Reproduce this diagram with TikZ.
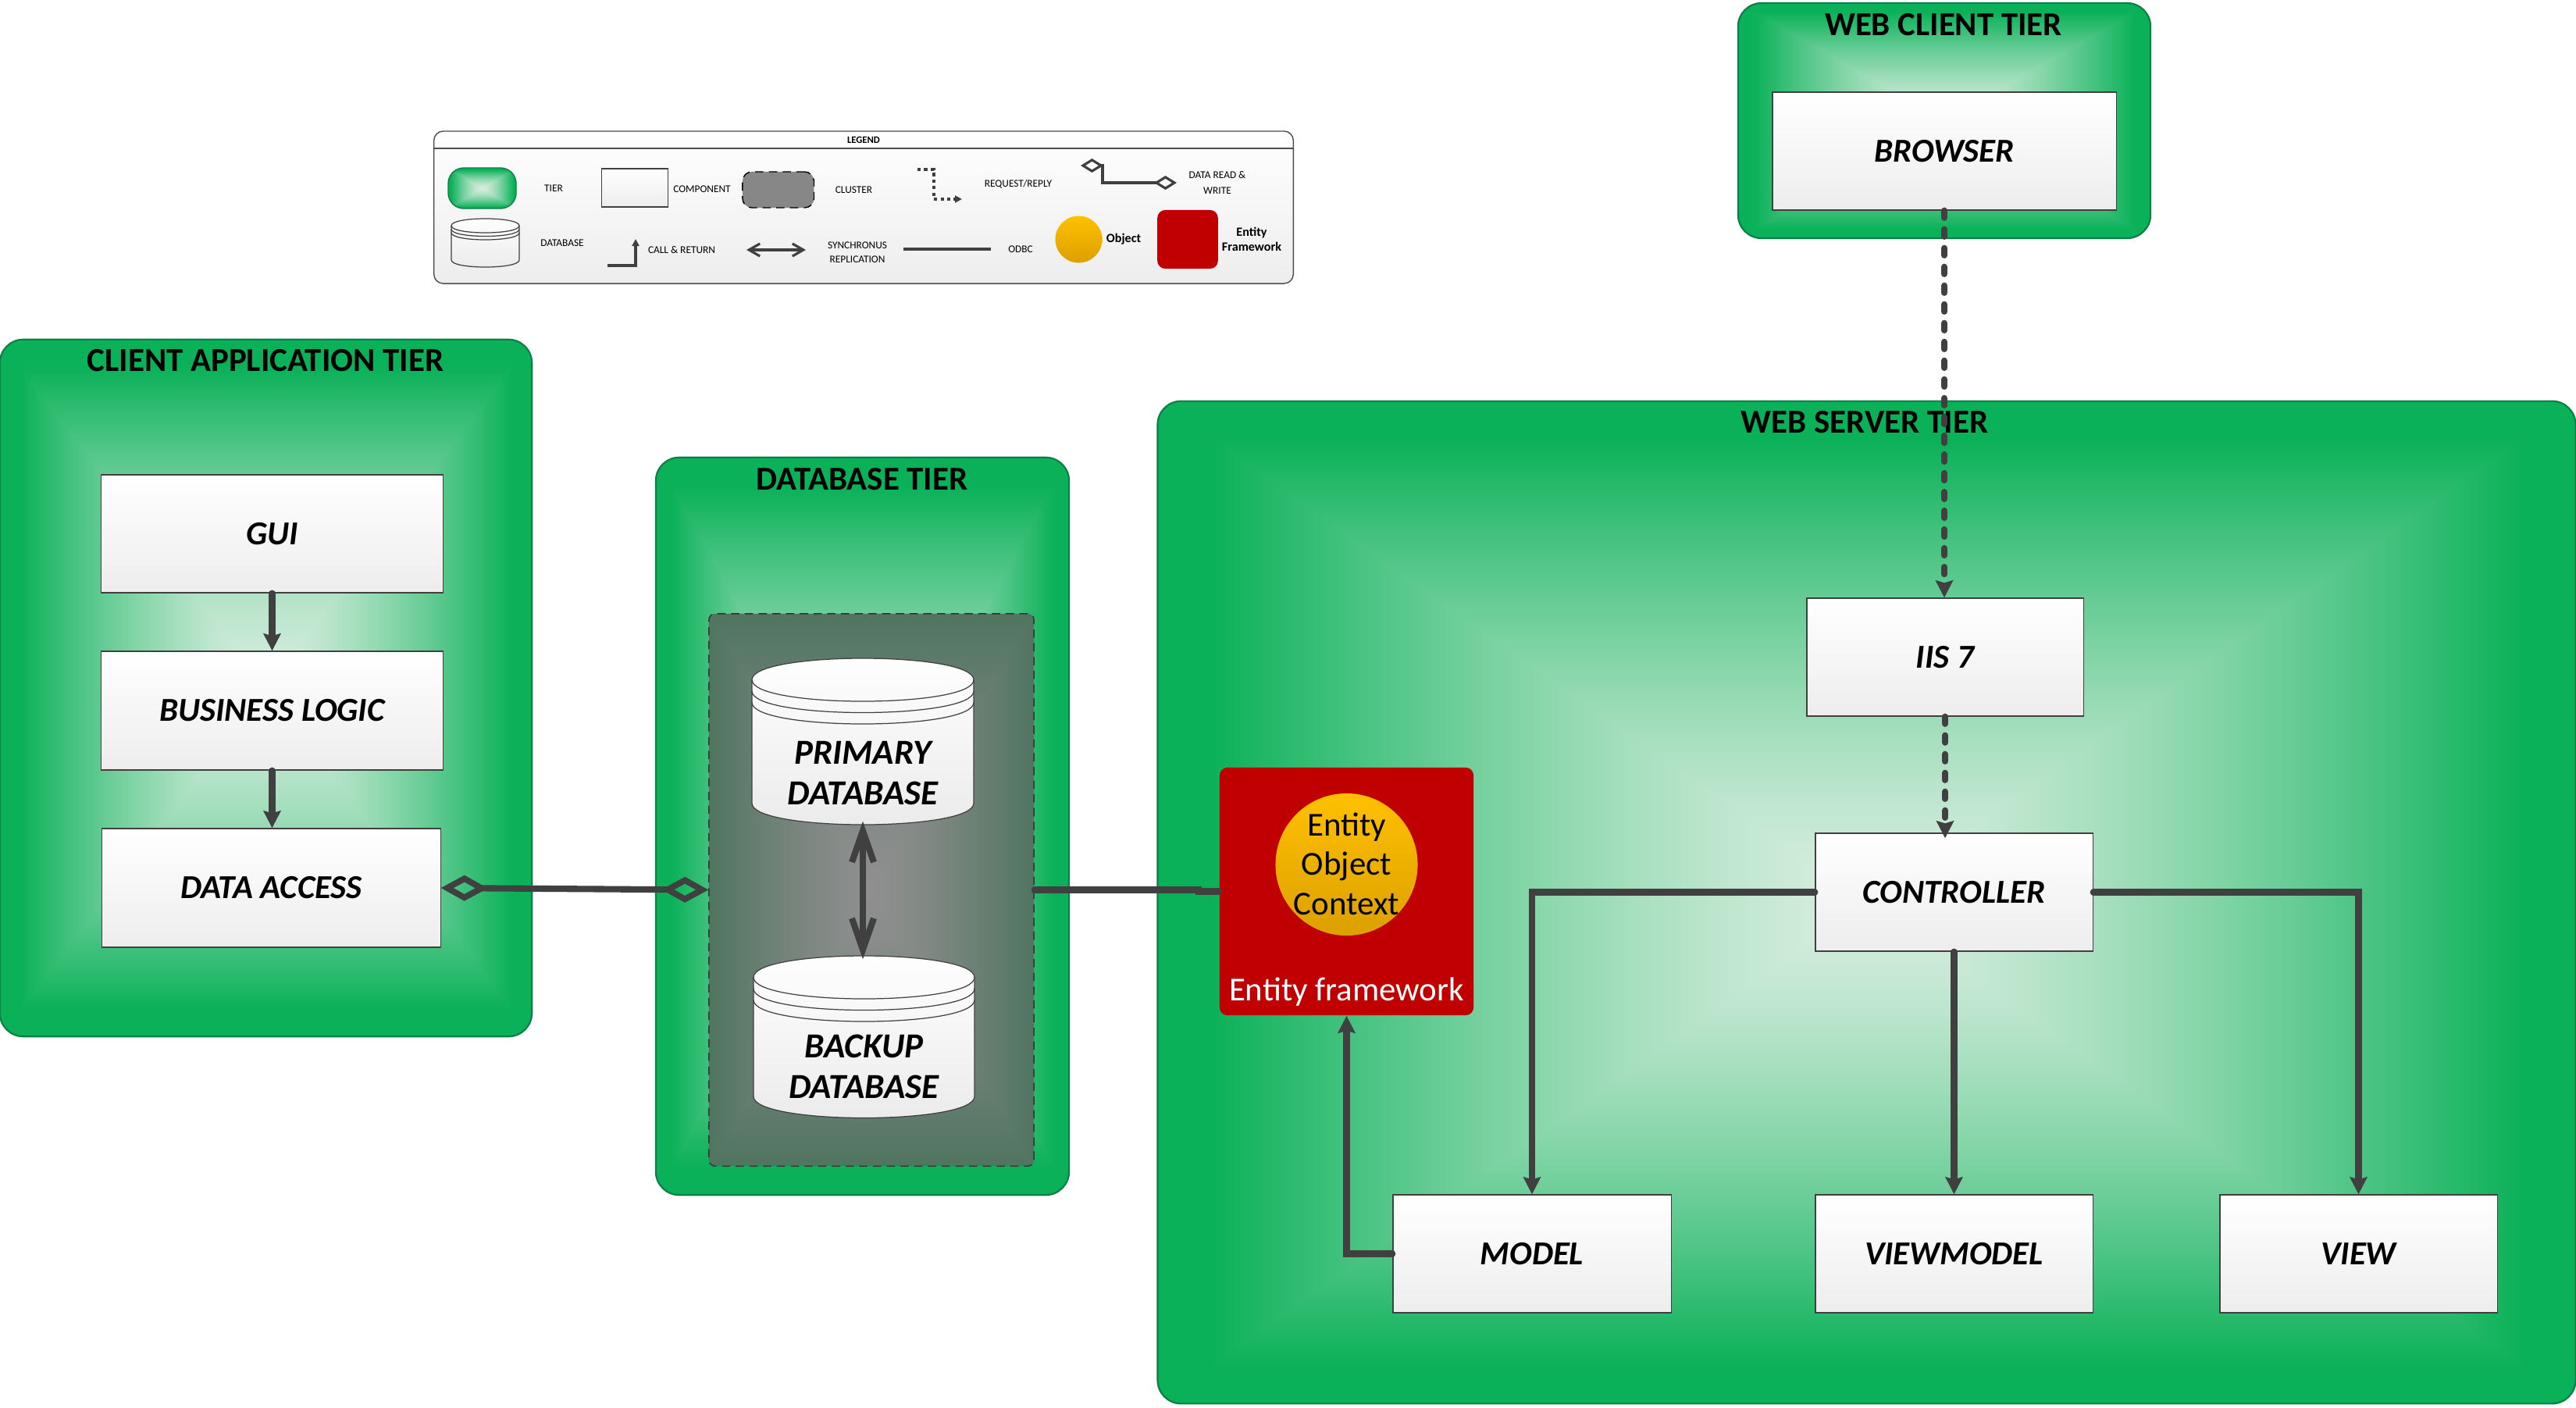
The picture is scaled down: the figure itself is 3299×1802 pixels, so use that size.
\documentclass[tikz,border=0pt]{standalone}
\usepackage{fontspec}
\setmainfont{Carlito}
\usetikzlibrary{arrows.meta,calc}
\definecolor{tierline}{HTML}{0A7F45}
\definecolor{conn}{HTML}{404040}
\definecolor{efred}{HTML}{C00000}
\definecolor{objtop}{HTML}{FFC000}
\definecolor{objbot}{HTML}{DCA000}
\pgfdeclarefunctionalshading{tierfill}{\pgfpoint{0bp}{0bp}}{\pgfpoint{100bp}{100bp}}{}{
 50 sub abs exch 50 sub abs 2 copy lt {exch} if pop
 25 div 0.92 div dup 1 gt {pop 1} if 1.4 exp
 dup -0.795 mul 0.84 add exch dup -0.235 mul 0.93 add exch -0.52 mul 0.87 add
}
\pgfdeclarefunctionalshading{clusterfill}{\pgfpoint{0bp}{0bp}}{\pgfpoint{100bp}{100bp}}{}{
 50 sub abs exch 50 sub abs 2 copy lt {exch} if pop
 25 div 0.98 div dup 1 gt {pop 1} if 1.3 exp
 dup -0.24 mul 0.56 add exch dup -0.10 mul 0.56 add exch -0.18 mul 0.56 add
}
\tikzset{
  x=0.01cm,y=-0.01cm,
  tier/.style={draw=tierline,line width=0.6pt,shading=tierfill,rounded corners=0.3cm,inner sep=0pt},
  tierlabel/.style={font=\fontsize{12.2}{14}\selectfont\bfseries,inner sep=0pt,text=black},
  comp/.style={draw=black!75,line width=0.35pt,top color=white,bottom color=black!7,inner sep=0pt,font=\fontsize{12.2}{14}\selectfont\bfseries\itshape,text=black},
  clusterbox/.style={draw=black!80,densely dashed,line width=0.4pt,shading=clusterfill,rounded corners=0.08cm,inner sep=0pt},
  dbtext/.style={font=\fontsize{12.8}{14.8}\selectfont\bfseries\itshape,align=center,inner sep=0pt,text=black},
  efbox/.style={fill=efred,rounded corners=0.1cm,inner sep=0pt},
  objcirc/.style={circle,draw=none,top color=objtop,bottom color=objbot,inner sep=0pt},
  flow/.style={draw=conn,line width=2.3pt,line cap=round,-{Stealth[length=0.22cm,width=0.22cm,inset=0.03cm]}},
  reqflow/.style={flow,dash pattern=on 2.6pt off 4.23pt},
  plain/.style={draw=conn,line width=2.3pt,line cap=round},
  sync/.style={draw=conn,line width=2.3pt,line cap=round,{Straight Barb[length=0.4cm,width=0.28cm]}-{Straight Barb[length=0.4cm,width=0.28cm]},shorten <=-0.05cm,shorten >=-0.05cm},
  rw/.style={draw=conn,line width=2.3pt,{Diamond[open,length=0.6cm,width=0.33cm,line width=2.2pt]}-{Diamond[open,length=0.6cm,width=0.33cm,line width=2.2pt]}},
  legtext/.style={font=\fontsize{3.8}{4.6}\selectfont,align=center,inner sep=0pt,text=black},
  legbold/.style={font=\fontsize{4.6}{5.4}\selectfont\bfseries,align=center,inner sep=0pt,text=black},
  legflow/.style={draw=conn,line width=0.9pt,-{Triangle[length=0.09cm,width=0.09cm]}},
  legline/.style={draw=conn,line width=0.9pt},
  cyl/.style={draw=black!75,line width=0.35pt},
  blank/.style={inner sep=0pt,draw=none,fill=none},
}
% x0 x1 top bottom ry gap
\newcommand{\dbcyl}[6]{%
  \path[cyl,top color=white,bottom color=black!8]
    (#1,{#3+#5}) .. controls (#1,{#3-#5/3}) and (#2,{#3-#5/3}) .. (#2,{#3+#5})
    -- (#2,{#4-#5}) .. controls (#2,{#4+#5/3}) and (#1,{#4+#5/3}) .. (#1,{#4-#5}) -- cycle;
  \draw[cyl] (#1,{#3+#5}) .. controls (#1,{#3+#5*7/3}) and (#2,{#3+#5*7/3}) .. (#2,{#3+#5});
  \draw[cyl] (#1,{#3+#5+#6}) .. controls (#1,{#3+#5*7/3+#6}) and (#2,{#3+#5*7/3+#6}) .. (#2,{#3+#5+#6});
  \draw[cyl] (#1,{#3+#5+2*#6}) .. controls (#1,{#3+#5*7/3+2*#6}) and (#2,{#3+#5*7/3+2*#6}) .. (#2,{#3+#5+2*#6});
}
\begin{document}
\begin{tikzpicture}
\useasboundingbox (0,0) rectangle (3299,1802);
\fill[white] (0,0) rectangle (3299,1802);

% Legend
\node[draw=black!70,line width=0.4pt,rounded corners=0.12cm,top color=white,bottom color=black!7,minimum width=11cm,minimum height=1.95cm,inner sep=0pt] (legend) at (1106,265.5) {};
\coordinate (lbarL) at (556,190);
\coordinate (lbarR) at (1656,190);
\draw[black!70,line width=0.4pt] (lbarL) -- (lbarR);
\node[legtext,font=\fontsize{3.6}{4.4}\selectfont\bfseries] (legtitle) at (1106,179) {LEGEND};
\node[draw=tierline,line width=0.4pt,shading=tierfill,rounded corners=0.2cm,minimum width=0.87cm,minimum height=0.52cm,inner sep=0pt] (ltier) at (617.5,241) {};
\node[legtext] (ltiert) at (709,241) {TIER};
\node[comp,minimum width=0.845cm,minimum height=0.49cm] (lcomp) at (813,240.5) {};
\node[legtext] (lcompt) at (899,242) {COMPONENT};
\node[draw=black,densely dashed,line width=0.4pt,fill=black!47,rounded corners=0.12cm,minimum width=0.915cm,minimum height=0.46cm,inner sep=0pt] (lcluster) at (996.7,243) {};
\node[legtext] (lclustert) at (1093.5,243) {CLUSTER};
\coordinate (lreqA) at (1175,217);
\coordinate (lreqB) at (1232,255);
\draw[legflow,dash pattern=on 1.2pt off 1.2pt] (lreqA) -- (1196,217) |- (lreqB);
\node[legtext] (lreqt) at (1304,236) {REQUEST/REPLY};
\coordinate (lrwA) at (1384,212);
\coordinate (lrwB) at (1507,234);
\draw[draw=conn,line width=0.9pt,{Diamond[open,length=0.29cm,width=0.18cm,line width=0.9pt]}-{Diamond[open,length=0.29cm,width=0.18cm,line width=0.9pt]}] (lrwA) -- (1412,212) |- (lrwB);
\node[legtext] (lrwt) at (1559,234) {DATA READ \&\\[1.0pt]WRITE};
\dbcyl{578}{665}{280}{342}{9}{4.5}
\node[blank,minimum width=0.87cm,minimum height=0.62cm] (ldb) at (621.5,311) {};
\node[legtext] (ldbt) at (720,311) {DATABASE};
\coordinate (lcallA) at (778,340);
\coordinate (lcallB) at (814,306);
\draw[legflow] (lcallA) -| (lcallB);
\node[legtext] (lcallt) at (873,320) {CALL \& RETURN};
\coordinate (lsyncA) at (956,320);
\coordinate (lsyncB) at (1032,320);
\draw[draw=conn,line width=0.9pt,{Straight Barb[length=0.14cm,width=0.16cm]}-{Straight Barb[length=0.14cm,width=0.16cm]}] (lsyncA) -- (lsyncB);
\node[legtext] (lsynct) at (1098,323) {SYNCHRONUS\\[0.4pt]REPLICATION};
\coordinate (lodbcA) at (1157,319);
\coordinate (lodbcB) at (1269,319);
\draw[legline] (lodbcA) -- (lodbcB);
\node[legtext] (lodbct) at (1307,319) {ODBC};
\node[objcirc,minimum size=0.6cm] (lobj) at (1381.5,306.5) {};
\node[legbold] (lobjt) at (1439,306) {Object};
\node[efbox,minimum width=0.775cm,minimum height=0.75cm] (lef) at (1521,306.5) {};
\node[legbold] (lToEF) at (1603,306.5) {Entity\\Framework};

% Tiers
\node[tier,minimum width=6.81cm,minimum height=8.92cm] (client) at (340.5,881) {};
\node[tierlabel] (clientt) at (340,462) {CLIENT APPLICATION TIER};
\node[tier,minimum width=5.29cm,minimum height=9.44cm] (dbtier) at (1104.5,1058) {};
\node[tierlabel] (dbtiert) at (1104,614) {DATABASE TIER};
\node[tier,minimum width=5.28cm,minimum height=3.01cm] (webclient) at (2490,154.5) {};
\node[tierlabel] (webclientt) at (2489,32) {WEB CLIENT TIER};
\node[tier,minimum width=18.15cm,minimum height=12.83cm] (webserver) at (2390.5,1155.5) {};
\node[tierlabel] (webservert) at (2388,541) {WEB SERVER TIER};

% Client tier
\node[comp,minimum width=4.38cm,minimum height=1.51cm] (gui) at (348.5,683.5) {GUI};
\node[comp,minimum width=4.38cm,minimum height=1.52cm] (bl) at (348.5,910) {BUSINESS LOGIC};
\node[comp,minimum width=4.33cm,minimum height=1.52cm] (da) at (347.5,1137) {DATA ACCESS};

% Database tier
\node[clusterbox,minimum width=4.16cm,minimum height=7.07cm] (cluster) at (1116,1139.5) {};
\dbcyl{963}{1247}{843}{1056}{27.5}{14.5}
\node[blank,minimum width=2.84cm,minimum height=2.13cm] (primary) at (1105,949.5) {};
\node[dbtext] (primaryt) at (1105,990) {PRIMARY\\DATABASE};
\dbcyl{965}{1248}{1224}{1431.5}{27.5}{14.5}
\node[blank,minimum width=2.83cm,minimum height=2.075cm] (backup) at (1106.5,1327.7) {};
\node[dbtext] (backupt) at (1106.5,1366) {BACKUP\\DATABASE};

% Web client and server
\node[comp,minimum width=4.4cm,minimum height=1.51cm] (browser) at (2490,193.5) {BROWSER};
\node[comp,minimum width=3.54cm,minimum height=1.51cm] (iis) at (2491,841.5) {IIS 7};
\node[comp,minimum width=3.55cm,minimum height=1.51cm] (ctrl) at (2502.5,1142.5) {CONTROLLER};
\node[comp,minimum width=3.56cm,minimum height=1.51cm] (model) at (1962,1605.5) {MODEL};
\node[comp,minimum width=3.55cm,minimum height=1.51cm] (vm) at (2502.5,1605.5) {VIEWMODEL};
\node[comp,minimum width=3.55cm,minimum height=1.51cm] (view) at (3020.5,1605.5) {VIEW};
\node[efbox,minimum width=3.25cm,minimum height=3.17cm] (ef) at (1724.5,1141.5) {};
\node[objcirc,minimum size=1.82cm] (obj) at (1724.5,1107) {};
\node[font=\fontsize{12.2}{14.4}\selectfont,align=center,inner sep=0pt,text=black] (objt) at (1724.5,1106) {Entity\\Object\\Context};
\node[font=\fontsize{12.2}{14}\selectfont,inner sep=0pt,text=white] (eft) at (1724.5,1270) {Entity framework};

% Connectors
\draw[flow] (gui) -- (bl);
\draw[flow] (bl.south) -- (bl.south |- da.north);
\draw[rw] (da.east) -- (cluster.west);
\draw[sync] (primary.south) -- (backup.north -| primary.south);
\coordinate (odbcstep) at (1535,1139.5);
\draw[plain] (cluster.east) -- (odbcstep) |- (ef.west);
\draw[reqflow] (browser.south) -- (browser.south |- iis.north);
\draw[reqflow,shorten >=-0.07cm] (iis.south) -- (iis.south |- ctrl.north);
\draw[flow] (ctrl.west) -| (model.north);
\draw[flow] (ctrl.south) -- (vm.north);
\draw[flow] (ctrl.east) -| (view.north);
\draw[flow] (model.west) -| (ef.south);
\end{tikzpicture}
\end{document}
